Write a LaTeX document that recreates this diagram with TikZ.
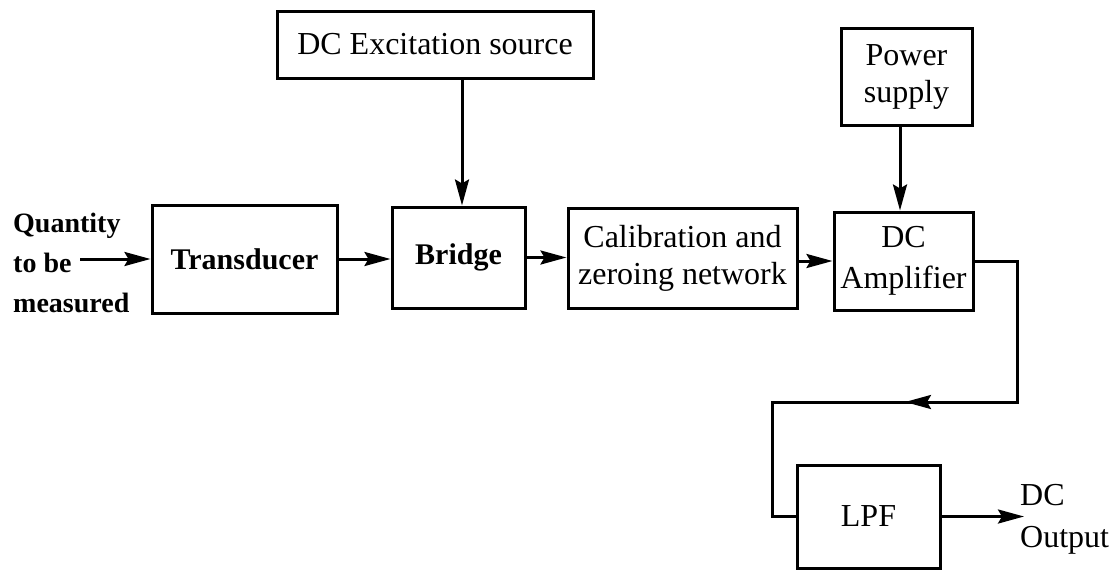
\documentclass[tikz,border=0pt]{standalone}
\usepackage{fontspec}
\setmainfont{Liberation Serif}
\usetikzlibrary{arrows.meta}
\begin{document}
\begin{tikzpicture}[x=1pt,y=-1pt,
  blk/.style={draw, line width=3pt, inner sep=0pt, align=center,
    font=\fontsize{32}{39}\selectfont},
  bblk/.style={blk, font=\fontsize{30}{39}\selectfont\bfseries},
  conn/.style={line width=3pt},
  arr/.style={conn, -{Stealth[length=26pt,width=14pt,inset=4pt]}},
  lbl/.style={inner sep=0pt, align=left}]
\useasboundingbox (0,0) rectangle (1116,571);

\node[blk, minimum width=316pt, minimum height=67pt] (exc) at (435,44.5) {DC Excitation source};
\node[blk, minimum width=131pt, minimum height=97pt, font=\fontsize{32}{37}\selectfont] (pow) at (906.5,76.5) {Power\\supply};
\node[bblk, minimum width=185pt, minimum height=108pt] (trans) at (244.5,259) {Transducer};
\node[bblk, minimum width=133pt, minimum height=101pt] (bridge) at (458.5,257.5) {Bridge};
\node[blk, minimum width=229pt, minimum height=100pt, font=\fontsize{32}{37}\selectfont] (cal) at (682.5,258) {Calibration and\\zeroing network};
\node[blk, minimum width=139pt, minimum height=98pt, font=\fontsize{32}{41}\selectfont] (amp) at (903.5,261) {DC\\Amplifier};
\node[blk, minimum width=143pt, minimum height=103pt] (lpf) at (868.5,516.5) {LPF};

\node[lbl, anchor=west, font=\fontsize{28}{40}\selectfont\bfseries] (qty) at (13,263) {Quantity\\to be\\measured};
\node[lbl, anchor=west, font=\fontsize{32}{42}\selectfont] (out) at (1020,519) {DC\\Output};

\coordinate (in) at (80,259);
\coordinate (c1) at (1017,261);
\coordinate (c2) at (1017,402);
\coordinate (cm) at (905,402);
\coordinate (c3) at (772,402);
\coordinate (outend) at (1024,516.5);

\draw[arr] (in) -- (trans.west);
\draw[arr] (trans.east) -- (bridge.west |- trans.east);
\draw[arr] (bridge.east) -- (cal.west |- bridge.east);
\draw[arr] (cal.east |- amp.west) -- (amp.west);
\draw[arr] (462,78) coordinate (e1) -- (e1 |- bridge.north);
\draw[arr] (900,125) coordinate (p1) -- (p1 |- amp.north);
\draw[conn, line join=miter] (amp.east) -- (c1) -- (c2) -- (c3) |- (lpf.west);
\draw[arr] (c2) -- (cm);
\draw[arr] (lpf.east) -- (outend);
\end{tikzpicture}
\end{document}
